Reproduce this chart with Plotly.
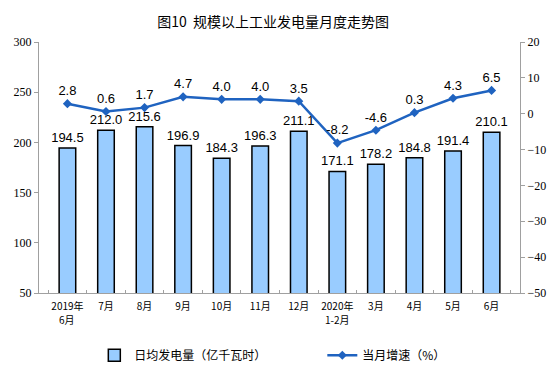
import plotly.graph_objects as go

categories = ["2019年6月", "7月", "8月", "9月", "10月", "11月", "12月",
              "2020年1-2月", "3月", "4月", "5月", "6月"]
tick_line1 = ["2019年", "7月", "8月", "9月", "10月", "11月", "12月",
              "2020年", "3月", "4月", "5月", "6月"]
tick_line2 = ["6月", "", "", "", "", "", "", "1-2月", "", "", "", ""]
daily_output = [194.5, 212.0, 215.6, 196.9, 184.3, 196.3, 211.1, 171.1, 178.2, 184.8, 191.4, 210.1]
growth = [2.8, 0.6, 1.7, 4.7, 4.0, 4.0, 3.5, -8.2, -4.6, 0.3, 4.3, 6.5]
left_ticks = [50, 100, 150, 200, 250, 300]
right_ticks = [-50, -40, -30, -20, -10, 0, 10, 20]

tick_font = dict(family="Noto Sans CJK SC", size=10, color="black")

fig = go.Figure()
fig.add_trace(go.Bar(
    x=categories, y=daily_output, name="日均发电量（亿千瓦时）",
    marker=dict(color="#99CCFF", line=dict(color="black", width=1.5)),
    text=[f"{v:.1f}" for v in daily_output], textposition="outside",
    constraintext="none",
    textfont=dict(family="Liberation Sans, Arial", size=13, color="black"),
    cliponaxis=False,
))
fig.add_trace(go.Scatter(
    x=categories, y=growth, name="当月增速（%）", yaxis="y2",
    mode="lines+markers+text",
    line=dict(color="#1F63C0", width=2.5),
    marker=dict(symbol="diamond", size=7, color="#1F63C0"),
    text=[f"{v:.1f}" for v in growth], textposition="top center",
    textfont=dict(family="Liberation Sans, Arial", size=13, color="black"),
    cliponaxis=False,
))

for cat, sub in zip(categories, tick_line2):
    if sub:
        fig.add_annotation(x=cat, y=-0.107, xref="x", yref="paper", text=sub,
                           showarrow=False, yanchor="middle", xanchor="center",
                           font=tick_font)

# The page adds an 8px body margin, so the figure is drawn 8px smaller and offset.
fig.update_layout(
    width=549, height=376,
    margin=dict(l=31, r=37, t=34, b=91, autoexpand=False),
    paper_bgcolor="white", plot_bgcolor="white",
    title=dict(text="图10  规模以上工业发电量月度走势图", x=0.483, xanchor="center", y=0.962, yanchor="middle",
               font=dict(family="Noto Sans CJK SC", size=14, color="black")),
    bargap=0.57,
    showlegend=True,
    legend=dict(orientation="h", x=0.115, y=-0.19, xanchor="left", yanchor="top",
                entrywidth=183, entrywidthmode="pixels",
                font=dict(family="Noto Sans CJK SC", size=12, color="black")),
    xaxis=dict(type="category", showline=True, linecolor="#A0A0A0", linewidth=1,
               ticks="inside", tickson="boundaries", ticklen=3, tickcolor="#A0A0A0",
               tickangle=0, automargin=False, ticklabelstandoff=4,
               tickvals=categories, ticktext=tick_line1,
               tickfont=tick_font),
    yaxis=dict(range=[50, 300], tickvals=left_ticks, showgrid=False, zeroline=False,
               showline=True, linecolor="#A0A0A0", linewidth=1, automargin=False,
               ticks="outside", ticklen=4, tickcolor="#A0A0A0",
               tickfont=dict(family="Liberation Serif, Times New Roman", size=12, color="black")),
    yaxis2=dict(range=[-50, 20], tickvals=right_ticks, overlaying="y", side="right",
                showgrid=False, zeroline=False, automargin=False,
                showline=True, linecolor="#A0A0A0", linewidth=1,
                ticks="outside", ticklen=4, tickcolor="#A0A0A0",
                tickfont=dict(family="Liberation Serif, Times New Roman", size=12, color="black")),
)

fig.write_html("out.html")
